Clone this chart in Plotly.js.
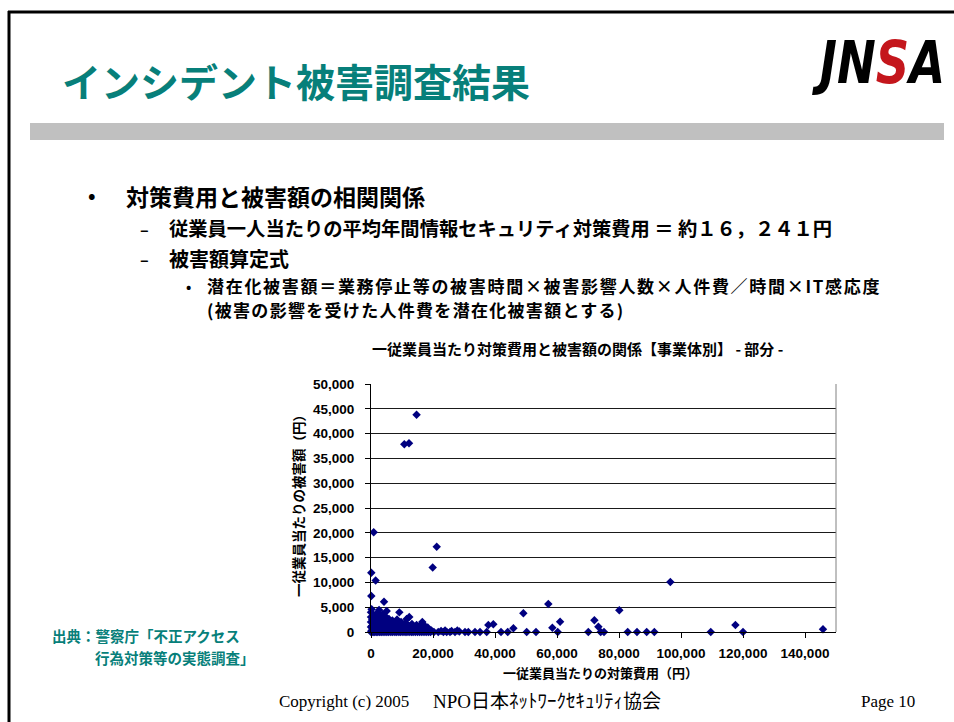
<!DOCTYPE html>
<html>
<head>
<meta charset="utf-8">
<script src="https://cdn.plot.ly/plotly-3.0.1.min.js"></script>
<style>
  html, body { margin: 0; padding: 0; background: #fff; }
  #chart { width: 954px; height: 722px; }
</style>
</head>
<body>
<div id="chart"></div>
<script>
// Per-employee security spending (yen) for each organisation surveyed
const costPerEmployee = [
  // outliers
  14700, 10750, 12260, 870, 21200, 19900, 100, 1500, 100, 4200,
  2600, 5060, 9140, 12350, 11500, 16550, 3650, 1830,
  // spread above 20,000 yen
  20300, 21700, 22600, 23350, 23900, 24420, 25490, 26000, 27100, 27850,
  28500, 30320, 31400, 33550, 35160, 37320, 37850, 39460, 41940, 44100,
  45940, 49150, 50230, 53230, 57200, 58500, 60230, 61000, 70100, 72060,
  73350, 74100, 75160, 80100, 82800, 85800, 88940, 91400, 96560, 109600,
  117550, 120000, 145800,
  // dense group below 20,000 yen
  200, 300, 400, 500, 600, 700, 800, 900, 1000, 1100,
  1200, 1300, 1400, 1500, 1600, 1700, 1800, 1900, 2000, 2100,
  2200, 2300, 2400, 2500, 2700, 2800, 3000, 3100, 3200, 3400,
  3500, 3800, 4000, 4100, 4300, 4500, 4700, 4900, 5200, 5400,
  5600, 5800, 6000, 6300, 6600, 6900, 7200, 7500, 7800, 8100,
  8400, 8700, 9000, 9400, 9700, 10000, 10300, 10600, 10900, 11200,
  11800, 12100, 12600, 12900, 13200, 13500, 13800, 14100, 14400, 14700,
  15000, 15300, 15600, 15900, 16200, 16800, 17100, 17400, 17700, 18000,
  18300, 18600, 18900, 19200, 19500,
  // near-zero damage
  0, 300, 700, 1200, 1700, 2200, 2800, 3300, 3900, 4500,
  5100, 5700, 6400, 7000, 7700, 8300, 9000, 9600, 10300, 11000,
  11600, 12300, 13000, 13600, 14300, 15000, 15700, 16400, 17100, 17800,
  18500, 19200,
  // stacked along the vertical axis
  0, 0, 0, 0, 200
];

// Damage per employee (yen), same order as costPerEmployee
const damagePerEmployee = [
  43800, 37850, 38050, 20100, 17200, 13000, 11950, 10400, 7250, 6100,
  4440, 4230, 3960, 3020, 2620, 2010, 2280, 2420,
  0, 0, 200, 0, 300, 0, 0, 200, 0, 300,
  100, 0, 0, 0, 0, 0, 1410, 1550, 0, 0,
  750, 3760, 0, 0, 5640, 870, 0, 2080, 0, 2350,
  1070, 0, 0, 4370, 0, 0, 0, 0, 10080, 0,
  1410, 0, 540,
  300, 1200, 2500, 800, 3000, 1800, 400, 2200, 1500, 600,
  3300, 2600, 1000, 200, 2000, 3600, 1300, 700, 2800, 1700,
  400, 3900, 2300, 1100, 600, 1900, 3200, 900, 2500, 1500,
  300, 3600, 1200, 2700, 500, 1900, 3100, 800, 2200, 1400,
  300, 2600, 1000, 1800, 600, 2300, 1300, 200, 1900, 900,
  2500, 1500, 400, 1200, 2000, 700, 1500, 300, 1100, 1800,
  600, 1300, 200, 900, 1600, 500, 1100, 300, 800, 1400,
  200, 700, 1100, 400, 900, 300, 700, 1200, 200, 500,
  900, 200, 400, 100, 300,
  0, 0, 0, 0, 0, 0, 0, 0, 0, 0,
  0, 0, 0, 0, 0, 0, 0, 0, 0, 0,
  0, 0, 0, 0, 0, 0, 0, 0, 0, 0,
  0, 0,
  1000, 2000, 3000, 4000, 4600
];

const xTickValues = [0, 20000, 40000, 60000, 80000, 100000, 120000, 140000];
const yTickValues = [0, 5000, 10000, 15000, 20000, 25000, 30000, 35000, 40000, 45000, 50000];

const slideTitle = 'インシデント被害調査結果';
const bulletLines = [
  '対策費用と被害額の相関関係',
  '従業員一人当たりの平均年間情報セキュリティ対策費用 ＝ 約１６，２４１円',
  '被害額算定式',
  '潜在化被害額＝業務停止等の被害時間×被害影響人数×人件費／時間×IT感応度',
  '(被害の影響を受けた人件費を潜在化被害額とする)'
];
const chartTitle = '一従業員当たり対策費用と被害額の関係【事業体別】 - 部分 -';
const xTitle = '一従業員当たりの対策費用（円）';
const yTitle = '一従業員当たりの被害額（円）';
const sourceLines = ['出典：警察庁「不正アクセス', '行為対策等の実態調査」'];
const footerCopyright = 'Copyright (c) 2005';
const footerOrg = 'NPO日本ﾈｯﾄﾜｰｸｾｷｭﾘﾃｨ協会';
const footerPage = 'Page 10';

// Plot area in page pixels
const PL = 371, PR = 836, PT = 384, PB = 632;
const W = 954, H = 722;
const px = p => (p - PL) / (PR - PL);
const py = p => (PB - p) / (PB - PT);

const CJK = '"Noto Sans CJK JP", "Noto Sans", sans-serif';
const SERIF = '"Liberation Serif", "Noto Sans CJK JP", serif';
const TEAL = '#077f7a';

function note(text, x, y, size, extra) {
  return Object.assign({
    text: text, xref: 'paper', yref: 'paper', x: px(x), y: py(y),
    xanchor: 'left', yanchor: 'middle', showarrow: false,
    font: { family: CJK, size: size, color: '#000', weight: 'bold' }
  }, extra || {});
}

const annotations = [
  note(slideTitle, 60, 80, 39, { font: { family: CJK, size: 39, color: TEAL, weight: 'bold' } }),
  note('JN<span style="color:#c4161c">S</span>A', 878, 63, 58, {
    xanchor: 'center',
    font: { family: '"DejaVu Sans", "Liberation Sans", sans-serif', size: 58, color: '#000', weight: 'bold', style: 'italic' }
  }),
  note('•', 86, 195, 20),
  note(bulletLines[0], 124, 196, 23),
  note('–', 138, 229, 16),
  note(bulletLines[1], 167, 228, 19.3),
  note('–', 138, 259, 16),
  note(bulletLines[2], 167, 258, 20),
  note('•', 184, 286, 14),
  note(bulletLines[3], 205, 285, 17),
  note(bulletLines[4], 205, 309, 17),
  note(chartTitle, 577, 348, 15, { xanchor: 'center' }),
  note(yTitle, 298, 503, 13.5, { xanchor: 'center', textangle: -90 }),
  note(xTitle, 600, 672, 13, { xanchor: 'center' }),
  note(sourceLines[0], 50, 635, 14.5, { font: { family: CJK, size: 14.5, color: TEAL, weight: 'bold' } }),
  note(sourceLines[1], 93, 657, 14.5, { font: { family: CJK, size: 14.5, color: TEAL, weight: 'bold' } }),
  note(footerCopyright, 277, 701, 17, { font: { family: SERIF, size: 17, color: '#000' } }),
  note(footerOrg, 431, 701, 19, { font: { family: SERIF, size: 19, color: '#000' } }),
  note(footerPage, 859, 701, 17, { font: { family: SERIF, size: 17, color: '#000' } })
];

const shapes = [
  // grey band under the title
  { type: 'rect', xref: 'paper', yref: 'paper', x0: px(30), x1: px(944), y0: py(140), y1: py(123),
    fillcolor: '#c0c0c0', line: { width: 0 } },
  // slide frame
  { type: 'line', xref: 'paper', yref: 'paper', x0: px(8), x1: px(956), y0: py(12), y1: py(12),
    line: { color: '#000', width: 3 } },
  { type: 'line', xref: 'paper', yref: 'paper', x0: px(9), x1: px(9), y0: py(11), y1: py(724),
    line: { color: '#000', width: 3 } },
  // right edge of the plot area
  { type: 'line', xref: 'paper', yref: 'paper', x0: 1, x1: 1, y0: 0, y1: 1,
    line: { color: '#808080', width: 1 } }
];

const trace = {
  type: 'scatter', mode: 'markers',
  x: costPerEmployee, y: damagePerEmployee,
  marker: { symbol: 'diamond', size: 6.5, color: '#000080', line: { width: 0 } },
  cliponaxis: false, hoverinfo: 'skip'
};

const tickFont = { family: '"Liberation Sans", Arial, sans-serif', size: 13.5, color: '#000', weight: 'bold' };

const layout = {
  width: W, height: H, autosize: false,
  margin: { l: PL, r: W - PR, t: PT, b: H - PB, pad: 0 },
  paper_bgcolor: '#fff', plot_bgcolor: '#fff',
  showlegend: false,
  xaxis: {
    range: [0, 150000], tickvals: xTickValues, tickformat: ',.0f',
    ticks: 'outside', ticklen: 5, tickcolor: '#000', tickwidth: 1,
    showline: true, linecolor: '#000', linewidth: 1,
    showgrid: false, zeroline: false, tickfont: tickFont, ticklabelstandoff: 4
  },
  yaxis: {
    range: [0, 50000], tickvals: yTickValues, tickformat: ',.0f',
    ticks: 'outside', ticklen: 5, tickcolor: '#000', tickwidth: 1,
    showline: true, linecolor: '#000', linewidth: 1,
    showgrid: true, gridcolor: '#1a1a1a', gridwidth: 1,
    zeroline: false, tickfont: tickFont, ticklabelstandoff: 8
  },
  annotations: annotations,
  shapes: shapes
};

// extra tracking for the two formula lines; text is centre-anchored,
// so shift right by half the added width to keep the left edge in place
const tracking = new Map([[bulletLines[3], 1.7], [bulletLines[4], 1.3]]);

Plotly.newPlot('chart', [trace], layout, { staticPlot: true, displayModeBar: false }).then(() => {
  document.querySelectorAll('.annotation-text').forEach(t => {
    const s = t.textContent;
    if (s === 'JNSA') {
      // squeeze the logo lettering into a condensed wordmark
      t.style.transformBox = 'fill-box';
      t.style.transformOrigin = 'center';
      t.style.transform = 'scaleX(0.8)';
    } else if (tracking.has(s)) {
      const ls = tracking.get(s);
      t.style.letterSpacing = ls + 'px';
      t.style.transform = 'translateX(' + (ls * s.length / 2) + 'px)';
    }
  });
});
</script>
</body>
</html>
